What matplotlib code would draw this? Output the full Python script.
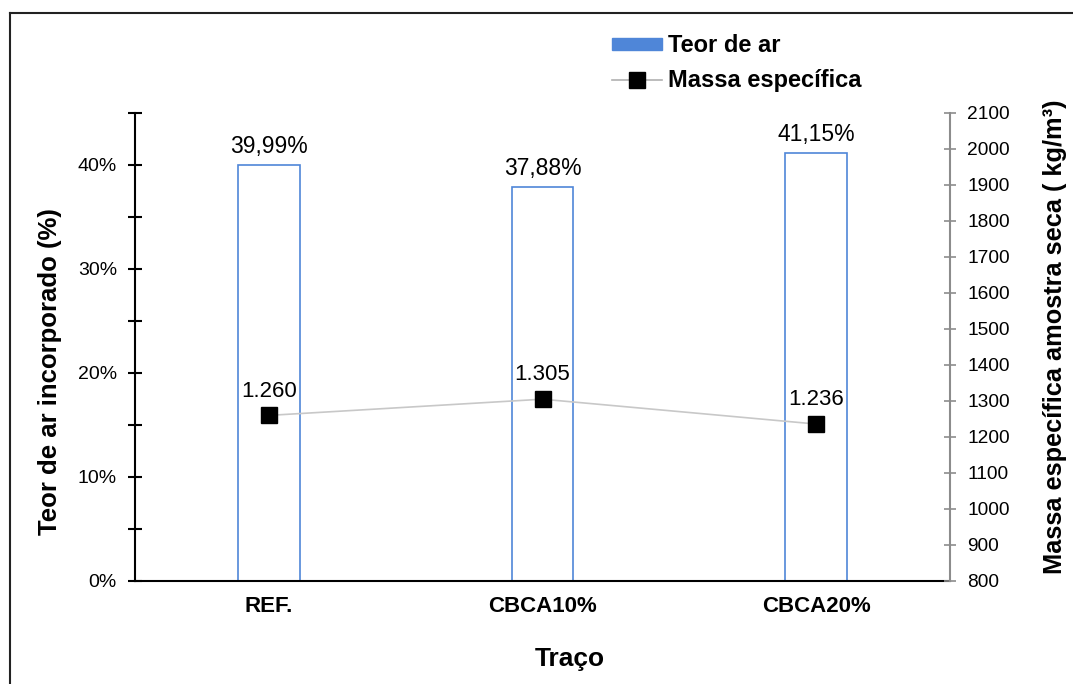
import matplotlib
matplotlib.use("Agg")
import matplotlib.pyplot as plt
from matplotlib.lines import Line2D
from matplotlib.patches import Patch
from matplotlib.ticker import MultipleLocator, FuncFormatter

plt.rcParams['font.family'] = ['Liberation Sans', 'DejaVu Sans']

categories = ["REF.", "CBCA10%", "CBCA20%"]
teor_ar = [39.99, 37.88, 41.15]          # %
massa_especifica = [1260, 1305, 1236]    # kg/m³

bar_color = "#4f86d8"

fig = plt.figure(figsize=(10.73, 6.84), dpi=100)
ax = fig.add_axes([0.1258, 0.1506, 0.7596, 0.6842])
ax2 = ax.twinx()

x = list(range(len(categories)))

# bars: air content
ax.bar(x, teor_ar, width=0.225, facecolor="white", edgecolor=bar_color,
       linewidth=1.2, zorder=2)
for xi, v in zip(x, teor_ar):
    ax.annotate(f"{v:.2f}%".replace(".", ","), (xi, v), xytext=(0, 5),
                textcoords="offset points", ha="center", va="bottom", fontsize=16.5)

ax.set_xlim(-0.49, 2.49)
ax.set_ylim(0, 45)
ax.yaxis.set_major_locator(MultipleLocator(10))
ax.yaxis.set_minor_locator(MultipleLocator(5))
ax.yaxis.set_major_formatter(FuncFormatter(lambda v, p: f"{v:.0f}%"))
ax.tick_params(axis="y", which="both", direction="inout", length=10, width=1.5,
               labelsize=14, colors="black", pad=8)
ax.tick_params(axis="x", length=0, labelsize=16, pad=11)
ax.set_xticks(x)
ax.set_xticklabels(categories, fontweight="bold")
for s in ("top", "right"):
    ax.spines[s].set_visible(False)
ax.spines["left"].set_linewidth(1.5)
ax.spines["bottom"].set_linewidth(1.5)
ax.set_ylabel("Teor de ar incorporado (%)", fontsize=18.5, fontweight="bold")
ax.yaxis.set_label_coords(-0.0896, 0.447)
ax.set_xlabel("Traço", fontsize=19, fontweight="bold")
ax.xaxis.set_label_coords(0.534, -0.141)

# line: dry specific mass
ax2.plot(x, massa_especifica, color="#c8c8c8", linewidth=1.2, marker="s",
         markersize=11, markerfacecolor="black", markeredgecolor="black", zorder=3)
for xi, v in zip(x, massa_especifica):
    ax2.annotate(f"{v / 1000:.3f}", (xi, v), xytext=(0, 10),
                 textcoords="offset points", ha="center", va="bottom", fontsize=16)
ax2.set_ylim(800, 2100)
ax2.yaxis.set_major_locator(MultipleLocator(100))
ax2.tick_params(axis="y", direction="inout", length=9, width=1.2, color="#8c8c8c",
                labelcolor="black", labelsize=13.8, pad=8)
for s in ("top", "left", "bottom"):
    ax2.spines[s].set_visible(False)
ax2.spines["right"].set_color("#8c8c8c")
ax2.spines["right"].set_linewidth(1.5)
ax2.set_ylabel("Massa específica amostra seca ( kg/m³)", fontsize=18.3,
               fontweight="bold")
ax2.yaxis.set_label_coords(1.114, 0.521)

handles = [
    Patch(facecolor=bar_color, edgecolor=bar_color, label="Teor de ar"),
    Line2D([0], [0], color="#b0b0b0", linewidth=1.2, marker="s", markersize=11,
           markerfacecolor="black", markeredgecolor="black", label="Massa específica"),
]
fig.legend(handles=handles, loc="upper left", bbox_to_anchor=(0.551, 0.981),
           frameon=False, prop={"weight": "bold", "size": 17}, handlelength=2.1,
           handleheight=0.4, handletextpad=0.25, labelspacing=0.5)

# outer frame lines
fig.add_artist(Line2D([0.0095, 0.0095], [0, 0.981], transform=fig.transFigure,
                      color="#222222", linewidth=1.5))
fig.add_artist(Line2D([0.0095, 1.0], [0.981, 0.981], transform=fig.transFigure,
                      color="#222222", linewidth=1.5))

fig.savefig("out.png", dpi=100)
